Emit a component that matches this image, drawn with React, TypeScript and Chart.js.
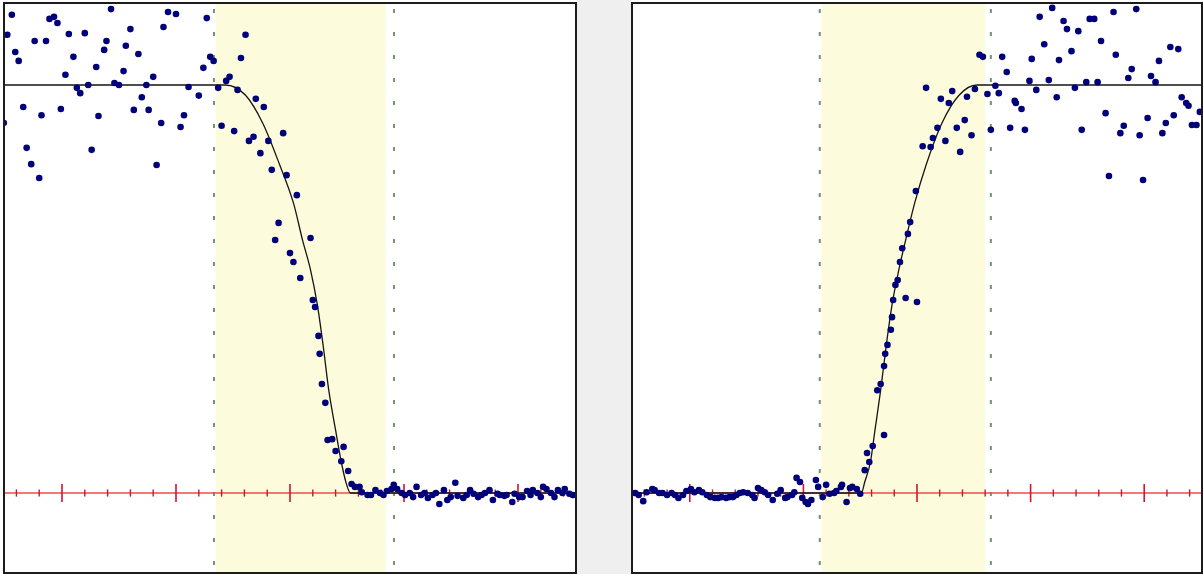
import React, { useEffect, useRef } from "react";
import { Chart, registerables } from "chart.js";

Chart.register(...registerables);

// ---- axis extents (data units: 1 major tick = 1, plateau = 1) ----
const X_MIN = -0.5;
const X_MAX = 4.5;
const Y_MIN = -0.1936;
const Y_MAX = 1.1985;

const majorTicks = [0, 1, 2, 3, 4];
const minorTicks = [
  -0.4, -0.2, 0.2, 0.4, 0.6, 0.8, 1.2, 1.4, 1.6, 1.8, 2.2, 2.4, 2.6, 2.8,
  3.2, 3.4, 3.6, 3.8, 4.2, 4.4,
];

// ---- left panel: falling edge ----
const leftX = [
  -0.51, -0.48, -0.44, -0.41, -0.38, -0.34, -0.31, -0.27, -0.24, -0.2, -0.18, -0.14, -0.11, -0.07, -0.04,
  -0.01, 0.03, 0.06, 0.1, 0.13, 0.16, 0.2, 0.23, 0.26, 0.3, 0.32, 0.37, 0.39, 0.43, 0.46, 0.5, 0.54,
  0.56, 0.6, 0.63, 0.67, 0.7, 0.74, 0.76, 0.8, 0.83, 0.87, 0.89, 0.93, 1.0, 1.04, 1.07, 1.11, 1.2,
  1.24, 1.27, 1.3, 1.33, 1.37, 1.4, 1.44, 1.47, 1.51, 1.54, 1.57, 1.61, 1.64, 1.68, 1.7, 1.74, 1.77,
  1.81, 1.84, 1.87, 1.9, 1.94, 1.97, 2.0, 2.03, 2.06, 2.09, 2.18, 2.2, 2.22, 2.25, 2.26, 2.28, 2.31,
  2.33, 2.37, 2.4, 2.45, 2.47, 2.51, 2.54, 2.57, 2.61,
  2.63, 2.68, 2.71, 2.75, 2.79, 2.82, 2.85, 2.89, 2.91, 2.94, 2.98, 3.01, 3.05, 3.08, 3.11, 3.15,
  3.18, 3.21, 3.25, 3.28, 3.31, 3.35, 3.38, 3.41, 3.45, 3.47, 3.52, 3.55, 3.58, 3.61, 3.65, 3.68,
  3.71, 3.75, 3.78, 3.82, 3.84, 3.88, 3.9, 3.95, 3.97, 4.01, 4.04, 4.08, 4.11, 4.13, 4.17, 4.2,
  4.22, 4.25, 4.29, 4.32, 4.35, 4.39, 4.41, 4.45, 4.48,
];
const leftY = [
  0.907, 1.123, 1.172, 1.081, 1.059, 0.946, 0.846, 0.806, 1.108, 0.772, 0.926, 1.108, 1.162, 1.167, 1.152,
  0.941, 1.025, 1.125, 1.069, 0.993, 0.98, 1.127, 1.0, 0.841, 1.044, 0.924, 1.086, 1.108, 1.186, 1.005, 1.0, 1.034,
  1.096, 1.137, 0.939, 1.076, 0.97, 1.0, 0.939, 1.02, 0.804, 0.907, 1.142, 1.179, 1.174, 0.897, 0.926, 0.995, 0.974,
  1.042, 1.164, 1.069, 1.059, 0.993, 0.9, 1.01, 1.02, 0.887, 0.988, 1.066, 1.123, 0.863, 0.873, 0.966, 0.833, 0.946,
  0.863, 0.792, 0.62, 0.662, 0.882, 0.779, 0.588, 0.566, 0.73, 0.527, 0.625, 0.473, 0.456, 0.385, 0.341, 0.267, 0.221,
  0.13, 0.132, 0.103, 0.078, 0.113, 0.054, 0.022, 0.015, 0.015,
  0.002, -0.005, -0.005, 0.007, 0.0, -0.005, 0.005, 0.01, 0.02, 0.01, 0.0, -0.005, 0.0, -0.01, 0.015, -0.005,
  0.0, -0.012, -0.005, 0.0, -0.027, 0.007, -0.017, -0.01, 0.025, -0.007, -0.012, -0.005, 0.007, -0.002, -0.01, -0.005,
  0.0, 0.007, -0.017, -0.002, -0.005, -0.007, -0.005, -0.022, -0.002, -0.01, -0.01, 0.005, -0.005, 0.007, 0.0, -0.01,
  0.015, 0.01, 0.0, -0.01, 0.007, 0.0, 0.01, -0.002, -0.005,
];
const leftCurveX = [-0.5, 1.43, 1.61, 1.76, 1.91, 2.03, 2.11, 2.18, 2.24, 2.29, 2.34, 2.4, 2.45, 2.49, 2.53, 4.5];
const leftCurveY = [1, 1, 0.975, 0.907, 0.804, 0.711, 0.62, 0.547, 0.461, 0.363, 0.252, 0.154, 0.076, 0.027, 0, 0];
const leftBand = [1.35, 2.84];
const leftGuides = [1.333, 2.912];

// ---- right panel: rising edge ----
const rightX = [
  -0.48, -0.45, -0.41, -0.38, -0.33, -0.31, -0.27, -0.24, -0.2, -0.16, -0.13, -0.1, -0.06, -0.03, 0.01, 0.04,
  0.08, 0.11, 0.15, 0.18, 0.22, 0.25, 0.28, 0.32, 0.35, 0.38, 0.41, 0.44, 0.47, 0.51, 0.55, 0.57, 0.6, 0.63,
  0.66, 0.69, 0.73, 0.77, 0.8, 0.84, 0.86, 0.9, 0.92, 0.94, 0.97, 0.99, 1.02, 1.04, 1.07, 1.11, 1.13, 1.17,
  1.2, 1.23, 1.27, 1.29, 1.33, 1.34, 1.38, 1.41, 1.43, 1.47, 1.5,
  1.54, 1.56, 1.58, 1.61, 1.65, 1.68, 1.71, 1.71, 1.72, 1.74, 1.77, 1.78, 1.79, 1.81, 1.83, 1.85, 1.87, 1.9,
  1.92, 1.94, 2.0, 1.99, 2.05, 2.08, 2.12, 2.14, 2.18, 2.21, 2.25, 2.28, 2.31, 2.35, 2.38, 2.42, 2.44, 2.48,
  2.51, 2.55, 2.58, 2.62, 2.65, 2.69, 2.72, 2.75, 2.79, 2.82, 2.86, 2.87, 2.92, 2.95, 2.99, 3.01, 3.05, 3.08,
  3.12, 3.16, 3.19, 3.23, 3.25, 3.29, 3.32, 3.36, 3.39, 3.42, 3.45, 3.49, 3.52, 3.56, 3.59, 3.62, 3.66, 3.69,
  3.73, 3.75, 3.79, 3.82, 3.86, 3.89, 3.93, 3.96, 3.99, 4.03, 4.06, 4.1, 4.13, 4.16, 4.19, 4.23, 4.26, 4.3,
  4.33, 4.37, 4.39, 4.42, 4.46, 4.49,
];
const rightY = [
  0.0, -0.005, -0.02, 0.002, 0.01, 0.007, 0.0, 0.0, -0.005, 0.0, -0.005, -0.012, -0.005, 0.005, 0.01, 0.002,
  0.007, 0.002, -0.005, -0.01, -0.012, -0.012, -0.01, -0.012, -0.01, -0.01, -0.005, 0.0, 0.002, 0.0, -0.005, -0.012, 0.012, 0.007,
  0.002, -0.005, -0.017, -0.002, 0.007, -0.012, -0.01, -0.005, 0.002, 0.037, 0.027, -0.012, -0.022, -0.027, -0.017, 0.032, 0.015, -0.01,
  0.02, -0.002, 0.0, 0.005, 0.015, 0.02, -0.022, 0.012, 0.015, 0.01, -0.002,
  0.056, 0.098, 0.076, 0.115, 0.252, 0.267, 0.142, 0.311, 0.341, 0.363, 0.4, 0.431, 0.473, 0.51, 0.522, 0.566, 0.6, 0.478,
  0.635, 0.664, 0.468, 0.74, 0.85, 0.993, 0.848, 0.87, 0.895, 0.966, 0.863, 0.956, 0.985, 0.895, 0.836, 0.914, 0.971, 0.877,
  0.99, 1.074, 1.069, 0.978, 0.89, 0.998, 0.98, 1.069, 1.032, 0.895, 0.961, 0.956, 0.941, 0.89, 1.01, 1.064, 0.988, 1.167,
  1.1, 1.012, 1.189, 0.97, 1.061, 1.157, 1.137, 1.083, 0.993, 1.132, 0.89, 1.007, 1.162, 1.162, 1.007, 1.108, 0.931, 0.777,
  1.179, 1.074, 0.882, 0.9, 1.017, 1.039, 1.186, 0.877, 0.767, 0.919, 1.022, 1.007, 1.059, 0.882, 0.907, 1.093, 0.926, 1.088,
  0.97, 0.956, 0.949, 0.902, 0.902, 0.934,
];
const rightCurveX = [-0.5, 1.51, 1.54, 1.59, 1.63, 1.68, 1.73, 1.78, 1.84, 1.9, 1.98, 2.08, 2.22, 2.37, 2.53, 4.5];
const rightCurveY = [0, 0, 0.027, 0.076, 0.154, 0.252, 0.363, 0.461, 0.547, 0.62, 0.711, 0.804, 0.907, 0.975, 1, 1];
const rightBand = [1.16, 2.6];
const rightGuides = [1.144, 2.65];

const zip = (xs: number[], ys: number[]) => xs.map((x, i) => ({ x, y: ys[i] }));

const bandPlugin = {
  id: "band",
  beforeDatasetsDraw(chart: any, _args: any, opts: any) {
    const { ctx, chartArea, scales } = chart;
    const x1 = scales.x.getPixelForValue(opts.from);
    const x2 = scales.x.getPixelForValue(opts.to);
    ctx.save();
    ctx.fillStyle = opts.color;
    ctx.fillRect(x1, chartArea.top, x2 - x1, chartArea.bottom - chartArea.top);
    ctx.restore();
  },
};

type PanelProps = {
  width: number;
  height: number;
  px: number[];
  py: number[];
  cx: number[];
  cy: number[];
  band: number[];
  guides: number[];
};

function Panel({ width, height, px, py, cx, cy, band, guides }: PanelProps) {
  const ref = useRef<HTMLCanvasElement | null>(null);
  useEffect(() => {
    if (!ref.current) return;
    const guideSets = guides.map((g) => ({
      type: "line" as const,
      data: [
        { x: g, y: Y_MAX },
        { x: g, y: Y_MIN },
      ],
      borderColor: "#6f946f",
      borderWidth: 2,
      borderDash: [4, 19],
      borderDashOffset: 18,
      pointRadius: 0,
      order: 5,
    }));
    const chart = new Chart(ref.current, {
      type: "scatter",
      data: {
        datasets: [
          {
            type: "scatter",
            data: zip(px, py),
            pointRadius: 3.3,
            pointBackgroundColor: "#00007a",
            pointBorderWidth: 0,
            pointBorderColor: "#00007a",
            order: 0,
          },
          {
            type: "line",
            data: zip(cx, cy),
            borderColor: "#151515",
            borderWidth: 1.3,
            pointRadius: 0,
            cubicInterpolationMode: "monotone",
            order: 1,
          },
          {
            type: "scatter",
            data: majorTicks.map((x) => ({ x, y: 0 })),
            pointStyle: "line",
            rotation: 90,
            pointRadius: 9,
            pointBorderColor: "#d4142c",
            pointBorderWidth: 1.6,
            order: 2,
          },
          {
            type: "scatter",
            data: minorTicks.map((x) => ({ x, y: 0 })),
            pointStyle: "line",
            rotation: 90,
            pointRadius: 3.6,
            pointBorderColor: "#c8182e",
            pointBorderWidth: 1.4,
            order: 3,
          },
          {
            type: "line",
            data: [
              { x: X_MIN, y: 0 },
              { x: X_MAX, y: 0 },
            ],
            borderColor: "#f24a4a",
            borderWidth: 1.6,
            pointRadius: 0,
            order: 4,
          },
          ...guideSets,
        ] as any,
      },
      options: {
        animation: false,
        responsive: false,
        events: [],
        layout: { padding: 0, autoPadding: false },
        scales: {
          x: { type: "linear", min: X_MIN, max: X_MAX, display: false },
          y: { type: "linear", min: Y_MIN, max: Y_MAX, display: false },
        },
        plugins: {
          legend: { display: false },
          tooltip: { enabled: false },
          band: { from: band[0], to: band[1], color: "#fcfcdc" },
        } as any,
      },
      plugins: [bandPlugin],
    });
    return () => chart.destroy();
  }, []);
  return <canvas ref={ref} width={width} height={height} style={{ display: "block", width, height }} />;
}

export default function App() {
  return (
    <div
      style={{
        position: "fixed",
        left: 0,
        top: 0,
        width: 1203,
        height: 574,
        background: "#ffffff",
        overflow: "hidden",
      }}
    >
      <div style={{ position: "absolute", left: 577, top: 0, width: 54, height: 574, background: "#efefef" }} />
      <div style={{ position: "absolute", left: 3, top: 2, border: "2px solid #1c1c1c", background: "#fff" }}>
        <Panel width={570} height={568} px={leftX} py={leftY} cx={leftCurveX} cy={leftCurveY} band={leftBand} guides={leftGuides} />
      </div>
      <div style={{ position: "absolute", left: 631, top: 2, border: "2px solid #1c1c1c", background: "#fff" }}>
        <Panel width={568} height={568} px={rightX} py={rightY} cx={rightCurveX} cy={rightCurveY} band={rightBand} guides={rightGuides} />
      </div>
    </div>
  );
}
